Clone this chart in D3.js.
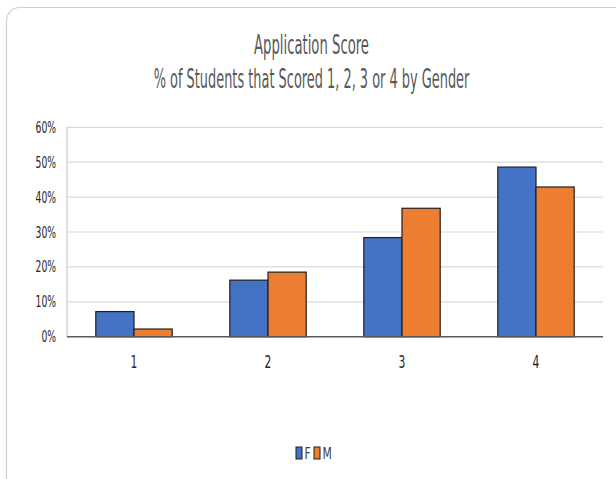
<!DOCTYPE html>
<html>
<head>
<meta charset="utf-8">
<script src="https://cdn.jsdelivr.net/npm/d3@7"></script>
<style>
    body { margin: 0; background: #fff; }
    text { font-family: "Liberation Sans Narrow", "DejaVu Sans Condensed", "Liberation Sans", sans-serif; }
</style>
</head>
<body>
<div id="chart"></div>
<script>
// chart data
const categories = ["1", "2", "3", "4"];
const seriesNames = ["F", "M"];
const femaleValues = [0.072, 0.162, 0.284, 0.486];
const maleValues = [0.022, 0.185, 0.368, 0.429];
const yTicks = [0, 0.1, 0.2, 0.3, 0.4, 0.5, 0.6];
const titleLines = ["Application Score", "% of Students that Scored 1, 2, 3 or 4 by Gender"];

const colors = ["#4472C4", "#ED7D31"];

const width = 616, height = 479;
const margin = { top: 127.3, right: 12, bottom: 142.3, left: 67 };

const svg = d3.select("#chart")
    .append("svg")
    .attr("width", width)
    .attr("height", height);

// outer chart frame
svg.append("rect")
    .attr("x", 6.5).attr("y", 7.5)
    .attr("width", 622).attr("height", 490)
    .attr("rx", 13)
    .attr("fill", "#fff")
    .attr("stroke", "#cfcfcf")
    .attr("stroke-width", 1.2);

// text in the picture is squeezed horizontally, so scale it down
function placeText(sel, x, y, sx) {
    return sel.attr("x", 0).attr("y", 0)
        .attr("transform", `translate(${x},${y}) scale(${sx},1)`);
}

// title: squeeze each line to the width it has in the picture
const titleWidths = [115, 316];
const titleBaselines = [54, 88];
titleLines.forEach((t, i) => {
    const txt = svg.append("text")
        .attr("text-anchor", "middle")
        .attr("font-size", 27)
        .attr("fill", "#595959")
        .text(t);
    const natural = txt.node().getComputedTextLength();
    placeText(txt, 311.5, titleBaselines[i], titleWidths[i] / natural);
});

const x0 = d3.scaleBand()
    .domain(categories)
    .range([margin.left, width - margin.right - 1])
    .paddingInner(0.43)
    .paddingOuter(0.215);

const x1 = d3.scaleBand()
    .domain(seriesNames)
    .range([0, x0.bandwidth()]);

const y = d3.scaleLinear()
    .domain([0, 0.6])
    .range([height - margin.bottom, margin.top]);

// gridlines
svg.append("g")
    .selectAll("line")
    .data(yTicks.slice(1))
    .join("line")
    .attr("x1", margin.left).attr("x2", width - margin.right - 1)
    .attr("y1", d => y(d)).attr("y2", d => y(d))
    .attr("stroke", "#d9d9d9")
    .attr("stroke-width", 1.2);

// left plot edge
svg.append("line")
    .attr("x1", margin.left).attr("x2", margin.left)
    .attr("y1", y(0.6)).attr("y2", y(0))
    .attr("stroke", "#c8c8c8")
    .attr("stroke-width", 1.2);

// y tick labels
svg.append("g")
    .selectAll("text")
    .data(yTicks)
    .join("text")
    .each(function(d) { placeText(d3.select(this), 56, y(d) + 5.5, 0.64); })
    .attr("text-anchor", "end")
    .attr("font-size", 16)
    .attr("fill", "#262626")
    .text(d3.format(".0%"));

// bars
const groups = svg.append("g")
    .selectAll("g")
    .data(categories)
    .join("g")
    .attr("transform", d => `translate(${x0(d)},0)`);

groups.selectAll("rect")
    .data((d, i) => [femaleValues[i], maleValues[i]].map((v, j) => ({ key: seriesNames[j], value: v })))
    .join("rect")
    .attr("x", d => x1(d.key))
    .attr("y", d => y(d.value))
    .attr("width", x1.bandwidth())
    .attr("height", d => y(0) - y(d.value))
    .attr("fill", (d, j) => colors[j])
    .attr("stroke", "#1f1f1f")
    .attr("stroke-width", 1.2);

// baseline
svg.append("line")
    .attr("x1", margin.left).attr("x2", width - margin.right - 1)
    .attr("y1", y(0)).attr("y2", y(0))
    .attr("stroke", "#595959")
    .attr("stroke-width", 1.5);

// x labels
svg.append("g")
    .selectAll("text")
    .data(categories)
    .join("text")
    .each(function(d) { placeText(d3.select(this), x0(d) + x0.bandwidth() / 2, 368, 0.7); })
    .attr("text-anchor", "middle")
    .attr("font-size", 17)
    .attr("fill", "#262626")
    .text(d => d);

// legend
const legendX = [296, 314];
const legend = svg.append("g")
    .selectAll("g")
    .data(seriesNames)
    .join("g")
    .attr("transform", (d, i) => `translate(${legendX[i]},447)`);

legend.append("rect")
    .attr("width", 6).attr("height", 12)
    .attr("fill", (d, i) => colors[i])
    .attr("stroke", "#1f1f1f")
    .attr("stroke-width", 1);

legend.append("text")
    .each(function() { placeText(d3.select(this), 8.5, 11.5, 0.75); })
    .attr("font-size", 16)
    .attr("fill", "#404040")
    .text(d => d);
</script>
</body>
</html>
